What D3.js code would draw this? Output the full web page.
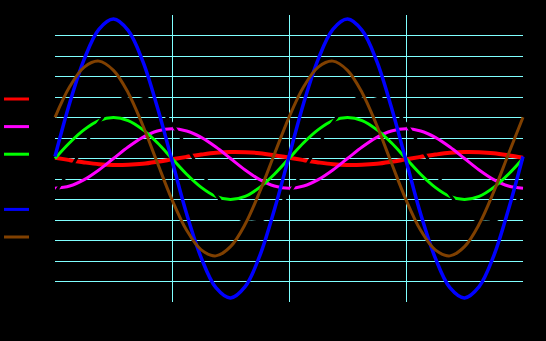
<!DOCTYPE html>
<html>
<head>
<meta charset="utf-8">
<script src="https://cdn.jsdelivr.net/npm/d3@7"></script>
<style>
    body { margin: 0; background: #000; }
    .grid line { stroke: rgb(128,255,255); stroke-width: 1; shape-rendering: crispEdges; }
    .curve { fill: none; stroke-linejoin: round; }
</style>
</head>
<body>
<div id="waves"></div>
<script>
// angle in degrees along the x axis (two full periods)
var angles = [0, 22.5, 45, 67.5, 90, 112.5, 135, 157.5, 180, 202.5, 225, 247.5, 270, 292.5, 315, 337.5,
              360, 382.5, 405, 427.5, 450, 472.5, 495, 517.5, 540, 562.5, 585, 607.5, 630, 652.5, 675, 697.5, 720];

// series values
var red     = [0.04, -0.08, -0.19, -0.28, -0.32, -0.31, -0.26, -0.16, -0.04, 0.08, 0.19, 0.28, 0.32, 0.31, 0.26, 0.16,
               0.04, -0.08, -0.19, -0.28, -0.32, -0.31, -0.26, -0.16, -0.04, 0.08, 0.19, 0.28, 0.32, 0.31, 0.26, 0.16, 0.04];
var magenta = [-1.45, -1.34, -1.03, -0.56, 0, 0.56, 1.03, 1.34, 1.45, 1.34, 1.03, 0.56, 0, -0.56, -1.03, -1.34,
               -1.45, -1.34, -1.03, -0.56, 0, 0.56, 1.03, 1.34, 1.45, 1.34, 1.03, 0.56, 0, -0.56, -1.03, -1.34, -1.45];
var green   = [0, 0.77, 1.41, 1.85, 2.0, 1.85, 1.41, 0.77, 0, -0.77, -1.41, -1.85, -2.0, -1.85, -1.41, -0.77,
               0, 0.77, 1.41, 1.85, 2.0, 1.85, 1.41, 0.77, 0, -0.77, -1.41, -1.85, -2.0, -1.85, -1.41, -0.77, 0];
var black   = [-1.69, -0.56, 0.64, 1.76, 2.60, 3.05, 3.03, 2.55, 1.69, 0.56, -0.64, -1.76, -2.60, -3.05, -3.03, -2.55,
               -1.69, -0.56, 0.64, 1.76, 2.60, 3.05, 3.03, 2.55, 1.69, 0.56, -0.64, -1.76, -2.60, -3.05, -3.03, -2.55, -1.69];
var blue    = [0.1, 2.7, 4.85, 6.3, 6.8, 6.25, 4.75, 2.5, -0.1, -2.7, -4.85, -6.3, -6.8, -6.25, -4.75, -2.5,
               0.1, 2.7, 4.85, 6.3, 6.8, 6.25, 4.75, 2.5, -0.1, -2.7, -4.85, -6.3, -6.8, -6.25, -4.75, -2.5, 0.1];
var brown   = [2.01, 3.50, 4.46, 4.75, 4.30, 3.21, 1.62, -0.21, -2.01, -3.50, -4.46, -4.75, -4.30, -3.21, -1.62, 0.21,
               2.01, 3.50, 4.46, 4.75, 4.30, 3.21, 1.62, -0.21, -2.01, -3.50, -4.46, -4.75, -4.30, -3.21, -1.62, 0.21, 2.01];

// grid positions
var yGrid = [-6, -5, -4, -3, -2, -1, 0, 1, 2, 3, 4, 5, 6];
var xGrid = [180, 360, 540];

// legend / draw order
var seriesNames  = ["red", "magenta", "green", "black", "blue", "brown"];
var seriesValues = [red, magenta, green, black, blue, brown];
var seriesColors = ["rgb(255,0,0)", "rgb(255,0,255)", "rgb(0,255,0)", "rgb(0,0,0)", "rgb(0,0,255)", "rgb(128,64,0)"];
var seriesWidths = [4, 3, 3, 3, 3.5, 3];

var margin = {top: 15, right: 23, bottom: 39, left: 55},
    width = 546 - margin.left - margin.right,
    height = 341 - margin.top - margin.bottom;

var x = d3.scaleLinear()
          .domain([0, 720])
          .range([0, width]);

var y = d3.scaleLinear()
          .domain([-7, 7])
          .range([height, 0]);

var svg = d3.select("#waves").append("svg")
            .attr("width", 546)
            .attr("height", 341)
            .style("display", "block");

svg.append("rect")
    .attr("width", 546)
    .attr("height", 341)
    .attr("fill", "#000");

var g = svg.append("g")
           .attr("transform", "translate(" + margin.left + "," + margin.top + ")");

// horizontal grid lines
var grid = g.append("g").attr("class", "grid");

grid.selectAll(".h")
    .data(yGrid)
    .enter().append("line")
    .attr("class", "h")
    .attr("x1", 0)
    .attr("x2", width)
    .attr("y1", function(d) { return y(d); })
    .attr("y2", function(d) { return y(d); });

// vertical grid lines
grid.selectAll(".v")
    .data(xGrid)
    .enter().append("line")
    .attr("class", "v")
    .attr("x1", function(d) { return x(d); })
    .attr("x2", function(d) { return x(d); })
    .attr("y1", 0)
    .attr("y2", height);

// the curves
var line = d3.line()
             .curve(d3.curveCatmullRom)
             .x(function(d, i) { return x(angles[i]); })
             .y(function(d) { return y(d); });

g.selectAll(".curve")
    .data(seriesValues)
    .enter().append("path")
    .attr("class", "curve")
    .attr("d", line)
    .style("stroke", function(d, i) { return seriesColors[i]; })
    .style("stroke-width", function(d, i) { return seriesWidths[i]; });

// legend (line samples at the left)
var ly = d3.scalePoint()
           .domain(seriesNames)
           .range([99, 237]);

var legend = svg.selectAll(".legend")
    .data(seriesNames)
    .enter().append("g")
    .attr("class", "legend");

legend.append("line")
    .attr("x1", 4)
    .attr("x2", 29)
    .attr("y1", function(d) { return ly(d); })
    .attr("y2", function(d) { return ly(d); })
    .style("stroke", function(d, i) { return seriesColors[i]; })
    .style("stroke-width", 3);
</script>
</body>
</html>
